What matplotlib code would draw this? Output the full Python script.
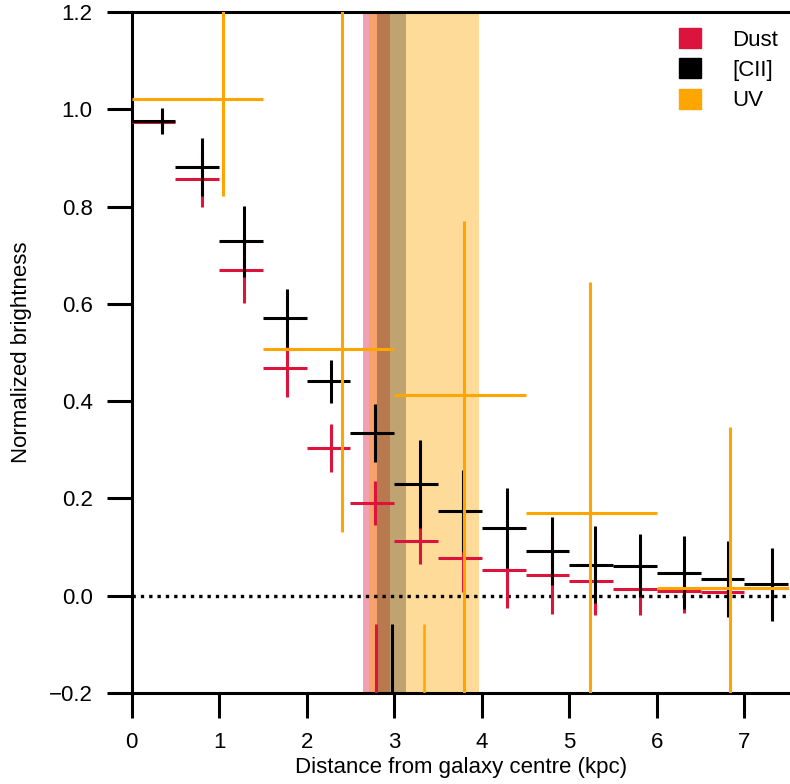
import numpy as np
import matplotlib
matplotlib.use("Agg")
import matplotlib.pyplot as plt
from matplotlib.patches import Patch

plt.rcParams['font.family'] = ['Liberation Sans Narrow', 'Liberation Sans', 'DejaVu Sans']

# radial bins (kpc)
bin_lo = [0.0, 0.5, 1.0, 1.5, 2.0, 2.5, 3.0, 3.5, 4.0, 4.5, 5.0, 5.5, 6.0, 6.5, 7.0]
bin_hi = [0.5, 1.0, 1.5, 2.0, 2.5, 3.0, 3.5, 4.0, 4.5, 5.0, 5.5, 6.0, 6.5, 7.0, 7.5]
bin_x = [0.35, 0.80, 1.29, 1.78, 2.28, 2.78, 3.29, 3.79, 4.29, 4.80, 5.29, 5.81, 6.31, 6.81, 7.31]

dust_y = [0.973, 0.856, 0.669, 0.468, 0.304, 0.191, 0.113, 0.078, 0.052, 0.043, 0.030, 0.014, 0.010, 0.008, 0.015]
dust_err = [0.018, 0.056, 0.068, 0.060, 0.050, 0.045, 0.047, 0.070, 0.077, 0.080, 0.070, 0.054, 0.045, 0.050, 0.060]

cii_y = [0.976, 0.881, 0.729, 0.571, 0.441, 0.335, 0.230, 0.174, 0.139, 0.092, 0.064, 0.062, 0.047, 0.034, 0.024]
cii_err = [0.027, 0.060, 0.073, 0.060, 0.044, 0.060, 0.090, 0.085, 0.083, 0.070, 0.080, 0.065, 0.075, 0.078, 0.075]

uv_lo = [0.0, 1.5, 3.0, 4.5, 6.0]
uv_hi = [1.5, 3.0, 4.5, 6.0, 7.5]
uv_x = [1.04, 2.40, 3.80, 5.24, 6.83]
uv_y = [1.022, 0.507, 0.413, 0.170, 0.016]
uv_err_lo = [0.20, 0.375, 0.70, 0.60, 0.40]
uv_err_hi = [0.20, 0.80, 0.357, 0.475, 0.330]

# effective radii and uncertainties (kpc)
reff = {'Dust': (2.795, 0.152), '[CII]': (2.972, 0.168), 'UV': (3.343, 0.631)}
colors = {'Dust': 'crimson', '[CII]': 'black', 'UV': 'orange'}
span_alpha = {'Dust': 0.4, '[CII]': 0.25, 'UV': 0.4}

fig = plt.figure(figsize=(7.9, 7.84), dpi=100)
ax = fig.add_axes([131.5 / 790, 1 - 693 / 784, 1 - 131.5 / 790, (693 - 12) / 784])

for name in ['Dust', 'UV', '[CII]']:
    r, e = reff[name]
    ax.axvspan(r - e, r + e, color=colors[name], alpha=span_alpha[name], lw=0, zorder=0)

for name in ['Dust', '[CII]', 'UV']:
    r, e = reff[name]
    ax.vlines(r, -0.2, -0.058, color=colors[name], lw=2.2 if name != 'UV' else 1.8, zorder=3)

ax.axhline(0, color='black', ls=(0, (1, 1.5)), lw=2.4, zorder=1)

def draw(x, y, lo, hi, ylo, yhi, c):
    x = np.array(x)
    xerr = [x - np.array(lo), np.array(hi) - x]
    ax.errorbar(x, y, xerr=xerr, yerr=[ylo, yhi], fmt='none', ecolor=c,
                elinewidth=2.2, capsize=0, zorder=4)

draw(bin_x, dust_y, bin_lo, bin_hi, dust_err, dust_err, 'crimson')
draw(bin_x, cii_y, bin_lo, bin_hi, cii_err, cii_err, 'black')
draw(uv_x, uv_y, uv_lo, uv_hi, uv_err_lo, uv_err_hi, 'orange')

ax.set_xlim(0, 7.52)
ax.set_ylim(-0.2, 1.2)
ax.set_xticks(range(0, 8))
ax.set_yticks([-0.2, 0.0, 0.2, 0.4, 0.6, 0.8, 1.0, 1.2])
ax.set_yticklabels(['\u22120.2', '0.0', '0.2', '0.4', '0.6', '0.8', '1.0', '1.2'])
ax.spines['right'].set_visible(False)
for s in ['left', 'bottom', 'top']:
    ax.spines[s].set_linewidth(2.2)
ax.tick_params(direction='out', length=18, width=2.2, labelsize=16, pad=10, top=False)

ax.set_xlabel('Distance from galaxy centre (kpc)', fontsize=16, labelpad=3)
ax.set_ylabel('Normalized brightness', fontsize=16, labelpad=12)

handles = [Patch(color=colors[n], label=n) for n in ['Dust', '[CII]', 'UV']]
fig.legend(handles=handles, loc='upper left', bbox_to_anchor=(679 / 790, 1 - 28 / 784),
           frameon=False, fontsize=16, handlelength=1.0, handleheight=1.0,
           handletextpad=1.4, labelspacing=0.35, borderpad=0, borderaxespad=0)

fig.savefig('out.png', dpi=100)
